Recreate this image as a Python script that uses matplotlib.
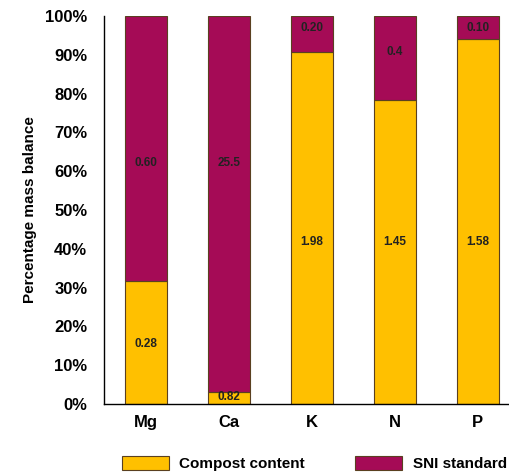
""" Percentage mass balance of compost content vs SNI standard
"""

import numpy as np
import matplotlib.pyplot as plt
from matplotlib.ticker import PercentFormatter

plt.rcParams['font.family'] = ['Liberation Sans', 'DejaVu Sans']

elements = ['Mg', 'Ca', 'K', 'N', 'P']
compost = [0.28, 0.82, 1.98, 1.45, 1.58]
sni = [0.60, 25.5, 0.20, 0.4, 0.10]
compost_txt = ['0.28', '0.82', '1.98', '1.45', '1.58']
sni_txt = ['0.60', '25.5', '0.20', '0.4', '0.10']
# label heights (fraction of bar) as placed in the original
compost_lab_y = [0.155, 0.018, 0.418, 0.418, 0.418]
sni_lab_y = [0.62, 0.62, 0.968, 0.907, 0.968]

c_yel = '#FFC000'
c_red = '#A50B56'
c_edge = '#5a4020'

# Shares of each bar
tot = np.array(compost) + np.array(sni)
p_comp = np.array(compost) / tot
p_sni = np.array(sni) / tot

fig = plt.figure(figsize=(5.09, 4.73), dpi=100)
ax = fig.add_axes([0.2043, 0.1459, 0.816, 0.8203])
x = np.arange(len(elements))
b1 = ax.bar(x, p_comp, width=0.5, color=c_yel, edgecolor=c_edge,
            linewidth=0.8, label='Compost content')
b2 = ax.bar(x, p_sni, width=0.5, bottom=p_comp, color=c_red,
            edgecolor=c_edge, linewidth=0.8, label='SNI standard')
for i in range(len(elements)):
    ax.text(x[i], compost_lab_y[i], compost_txt[i], ha='center',
            va='center', fontsize=8.5, fontweight='bold', color='#222222')
    ax.text(x[i], sni_lab_y[i], sni_txt[i], ha='center', va='center',
            fontsize=8.5, fontweight='bold', color='#222222')
ax.set_xlim(-0.506, 4.5)
ax.set_ylim(0, 1)
ax.set_yticks(np.arange(0, 1.01, 0.1))
ax.yaxis.set_major_formatter(PercentFormatter(1.0, decimals=0))
ax.set_xticks(x)
ax.set_xticklabels(elements)
ax.tick_params(axis='both', length=0, labelsize=12, pad=8)
ax.tick_params(axis='y', pad=12)
for lab in ax.get_xticklabels() + ax.get_yticklabels():
    lab.set_fontweight('bold')
ax.spines['top'].set_visible(False)
ax.spines['right'].set_visible(False)
ax.spines['left'].set_linewidth(1.0)
ax.spines['bottom'].set_linewidth(1.0)
ax.set_ylabel('Percentage mass balance', fontsize=11, fontweight='bold',
              labelpad=6)
# Legend, below the axis (kept inside the figure)
fig.legend(handles=[b1, b2], loc='center left',
           bbox_to_anchor=(121.7 / 509, 1 - 463.5 / 473),
           ncol=2, frameon=False, borderpad=0, borderaxespad=0,
           handlelength=3.07, handleheight=1.0,
           columnspacing=3.3, handletextpad=0.7,
           prop={'weight': 'bold', 'size': 11})
plt.savefig('out.png', dpi=100)
